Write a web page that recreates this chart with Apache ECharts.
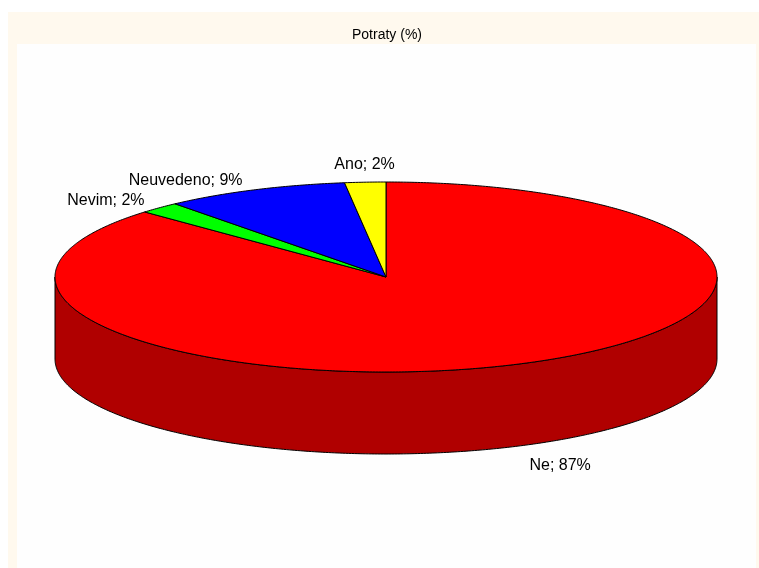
<!DOCTYPE html>
<html>
<head>
<meta charset="utf-8">
<script src="https://cdn.jsdelivr.net/npm/echarts@6/dist/echarts.min.js"></script>
<style>
  html, body { margin: 0; padding: 0; background: #ffffff; }
  #chart { width: 759px; height: 568px; }
</style>
</head>
<body>
<div id="chart"></div>
<script>
// Slices, listed clockwise starting at 12 o'clock
const categories = ['Ne', 'Nevim', 'Neuvedeno', 'Ano'];
const values = [87, 2, 9, 2];
const topColors = ['#ff0000', '#00ff00', '#0000ff', '#ffff00'];
const sideColors = ['#b00000', '#00b000', '#0000b0', '#b0b000'];

const total = values.reduce((a, b) => a + b, 0);
const starts = [];
let acc = 0;
values.forEach(v => { starts.push(acc / total * 360); acc += v; });

// Elliptical pie geometry (pixels)
const CX = 386, CY = 277, RX = 331, RY = 95, DEPTH = 82;
const LABEL_FONT = '16px "Liberation Sans", Arial, sans-serif';

function pt(deg, dy) {
  const r = deg * Math.PI / 180;
  return [CX + RX * Math.sin(r), CY - RY * Math.cos(r) + (dy || 0)];
}

function arcPoints(a0, a1, dy) {
  const pts = [];
  const n = Math.max(2, Math.ceil((a1 - a0) / 0.5));
  for (let i = 0; i <= n; i++) pts.push(pt(a0 + (a1 - a0) * i / n, dy));
  return pts;
}

// Front wall of each slice (only the part facing the viewer)
function sideItem(params) {
  const i = params.dataIndex;
  const a0 = starts[i], a1 = a0 + values[i] / total * 360;
  const s = Math.max(a0, 90), e = Math.min(a1, 270);
  if (e <= s) return null;
  const top = arcPoints(s, e, 0);
  const bottom = arcPoints(s, e, DEPTH).reverse();
  return {
    type: 'polygon',
    shape: { points: top.concat(bottom) },
    style: { fill: sideColors[i], stroke: '#000', lineWidth: 1 }
  };
}

// Top face of each slice plus its "name; value%" label
function topItem(params) {
  const i = params.dataIndex;
  const a0 = starts[i], a1 = a0 + values[i] / total * 360;
  const pts = [[CX, CY]].concat(arcPoints(a0, a1, 0));
  const mid = (a0 + a1) / 2 * Math.PI / 180;
  const sn = Math.sin(mid), cs = Math.cos(mid);
  let lx = CX + (RX + 10) * sn;
  let ly = CY - (RY + 10) * cs;
  let align = 'center';
  if (Math.abs(sn) >= 0.3) {
    align = sn < 0 ? 'right' : 'left';
    lx += sn < 0 ? -8 : 8;
  }
  let valign = 'middle';
  if (Math.abs(sn) < 0.3 && cs > 0) valign = 'bottom';
  if (cs < 0) { ly += DEPTH + 2; valign = 'top'; }
  return {
    type: 'group',
    children: [
      {
        type: 'polygon',
        shape: { points: pts },
        style: { fill: topColors[i], stroke: '#000', lineWidth: 1 }
      },
      {
        type: 'text',
        style: {
          x: lx, y: ly,
          text: categories[i] + '; ' + values[i] + '%',
          fill: '#000',
          font: LABEL_FONT,
          align: align,
          verticalAlign: valign
        }
      }
    ]
  };
}

const chart = echarts.init(document.getElementById('chart'), null, { renderer: 'canvas' });
chart.setOption({
  animation: false,
  backgroundColor: '#ffffff',
  title: {
    text: 'Potraty (%)',
    left: 347,
    top: 23,
    textStyle: { fontFamily: '"Liberation Sans", Arial, sans-serif', fontSize: 14, fontWeight: 'normal', color: '#000' }
  },
  graphic: [
    { type: 'rect', z: -10, shape: { x: 8, y: 12, width: 751, height: 556 }, style: { fill: '#fff9ee' } },
    { type: 'rect', z: -9, shape: { x: 17, y: 44, width: 739, height: 524 }, style: { fill: '#fefefe' } }
  ],
  series: [
    {
      type: 'custom',
      coordinateSystem: 'none',
      z: 2,
      data: values.map((v, i) => [i, v]),
      renderItem: sideItem
    },
    {
      type: 'custom',
      coordinateSystem: 'none',
      z: 3,
      data: values.map((v, i) => [i, v]),
      renderItem: topItem
    }
  ]
});
</script>
</body>
</html>
